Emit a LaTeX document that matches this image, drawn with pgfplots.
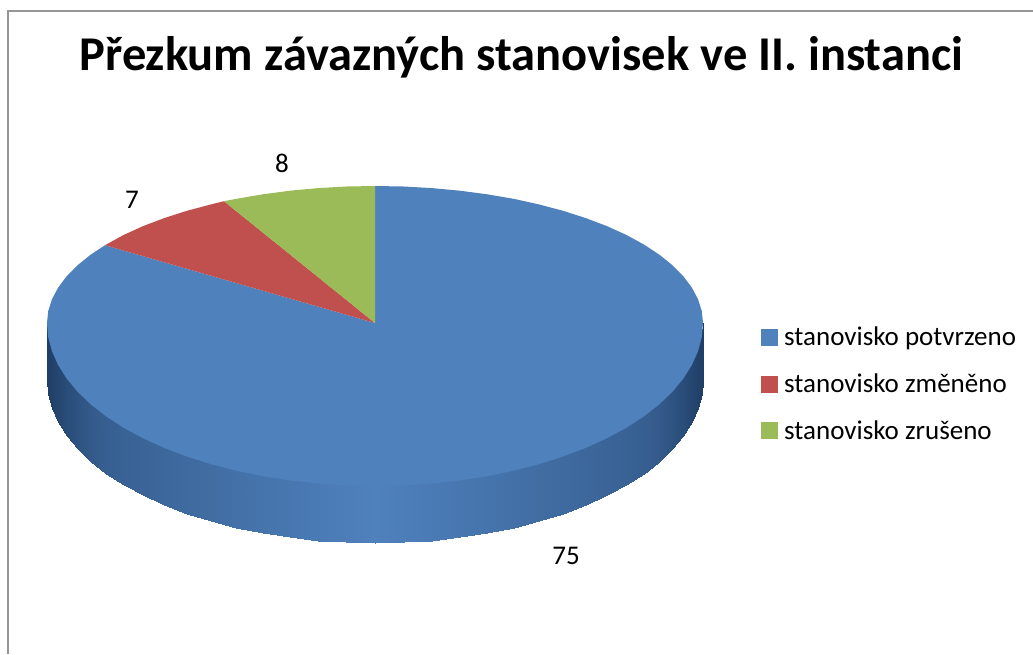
\documentclass[border=0pt]{standalone}
\usepackage{pgfplots}
\pgfplotsset{compat=1.18}
\usepackage{pgfplotstable}
\usepackage{fontspec}
\setmainfont{Carlito}
\definecolor{cblue}{HTML}{4F81BD}
\definecolor{cred}{HTML}{C0504D}
\definecolor{cgreen}{HTML}{9BBB59}
\definecolor{cframe}{HTML}{969696}
\begin{document}
\begin{tikzpicture}
\path[use as bounding box] (0,0) rectangle (1033pt,654pt);
\begin{axis}[
  scale only axis, width=1033pt, height=654pt,
  xmin=0, xmax=1033, ymin=0, ymax=654, y dir=reverse,
  hide axis, clip=false,
  colormap={wall}{rgb255(0)=(31,62,102); rgb255(1)=(79,129,189)},
  point meta min=0, point meta max=1,
]
\addplot[forget plot, cframe, line width=1.8pt] coordinates {(8,654) (8,11) (1033,11)};
% side wall
\addplot[forget plot, patch, patch type=rectangle, shader=interp, table/row sep=crcr, point meta=\thisrow{c},
 patch table={
0 1 38 37\\
1 2 39 38\\
2 3 40 39\\
3 4 41 40\\
4 5 42 41\\
5 6 43 42\\
6 7 44 43\\
7 8 45 44\\
8 9 46 45\\
9 10 47 46\\
10 11 48 47\\
11 12 49 48\\
12 13 50 49\\
13 14 51 50\\
14 15 52 51\\
15 16 53 52\\
16 17 54 53\\
17 18 55 54\\
18 19 56 55\\
19 20 57 56\\
20 21 58 57\\
21 22 59 58\\
22 23 60 59\\
23 24 61 60\\
24 25 62 61\\
25 26 63 62\\
26 27 64 63\\
27 28 65 64\\
28 29 66 65\\
29 30 67 66\\
30 31 68 67\\
31 32 69 68\\
32 33 70 69\\
33 34 71 70\\
34 35 72 71\\
35 36 73 72\\
}] table {
x y c\\
703 323 0\\
701.8 334.2 .02\\
698 348.3 .05\\
691.8 362.2 .12\\
683.2 375.7 .22\\
672.3 388.9 .32\\
659.1 401.5 .42\\
643.7 413.5 .49\\
626.3 424.8 .54\\
606.9 435.3 .58\\
585.8 444.9 .62\\
563.1 453.5 .66\\
539 461.2 .7\\
513.6 467.7 .75\\
487.2 473.2 .8\\
459.9 477.4 .85\\
432 480.5 .9\\
403.6 482.4 .95\\
375 483 1\\
346.4 482.4 .95\\
318 480.5 .9\\
290.1 477.4 .85\\
262.8 473.2 .8\\
236.4 467.7 .75\\
211 461.2 .7\\
186.9 453.5 .66\\
164.2 444.9 .62\\
143.1 435.3 .58\\
123.7 424.8 .54\\
106.3 413.5 .49\\
90.9 401.5 .42\\
77.7 388.9 .32\\
66.8 375.7 .22\\
58.2 362.2 .12\\
52 348.3 .05\\
48.2 334.2 .02\\
47 323 0\\
703 380 0\\
701.8 394.2 .02\\
698 408.3 .05\\
691.8 422.2 .12\\
683.2 435.7 .22\\
672.3 448.9 .32\\
659.1 461.5 .42\\
643.7 473.5 .49\\
626.3 484.8 .54\\
606.9 495.3 .58\\
585.8 504.9 .62\\
563.1 513.5 .66\\
539 521.2 .7\\
513.6 527.7 .75\\
487.2 533.2 .8\\
459.9 537.4 .85\\
432 540.5 .9\\
403.6 542.4 .95\\
375 543 1\\
346.4 542.4 .95\\
318 540.5 .9\\
290.1 537.4 .85\\
262.8 533.2 .8\\
236.4 527.7 .75\\
211 521.2 .7\\
186.9 513.5 .66\\
164.2 504.9 .62\\
143.1 495.3 .58\\
123.7 484.8 .54\\
106.3 473.5 .49\\
90.9 461.5 .42\\
77.7 448.9 .32\\
66.8 435.7 .22\\
58.2 422.2 .12\\
52 408.3 .05\\
48.2 394.2 .02\\
47 380 0\\
};
% top surface: stanovisko potvrzeno (75)
\addplot[fill=cblue, draw=none] coordinates {
(375,323) (375,186) (403.6,186.5) (432,188.1) (459.9,190.7) (487.2,194.3) (513.6,198.8)
(539,204.4) (563.1,210.8) (585.8,218.1) (606.9,226.1) (626.3,234.9) (643.7,244.4)
(659.1,254.5) (672.3,265.1) (683.2,276.1) (691.8,287.5) (698,299.2) (701.8,311.1) (703,323)
(701.8,337.2) (698,351.3) (691.8,365.2) (683.2,378.7) (672.3,391.9) (659.1,404.5)
(643.7,416.5) (626.3,427.8) (606.9,438.3) (585.8,447.9) (563.1,456.5) (539,464.2)
(513.6,470.7) (487.2,476.2) (459.9,480.4) (432,483.5) (403.6,485.4) (375,486)
(346.4,485.4) (318,483.5) (290.1,480.4) (262.8,476.2) (236.4,470.7) (211,464.2)
(186.9,456.5) (164.2,447.9) (143.1,438.3) (123.7,427.8) (106.3,416.5) (90.9,404.5)
(77.7,391.9) (66.8,378.7) (58.2,365.2) (52,351.3) (48.2,337.2) (47,323)
(48.2,311.1) (52,299.2) (58.2,287.5) (66.8,276.1) (77.7,265.1) (90.9,254.5) (105,245.2)
} --cycle;
% stanovisko změněno (7)
\addplot[fill=cred, draw=none] coordinates {
(375,323) (105,245.2) (123.7,234.9) (143.1,226.1) (164.2,218.1) (186.9,210.8) (211,204.4) (224,201.2)
} --cycle;
% stanovisko zrušeno (8)
\addplot[fill=cgreen, draw=none] coordinates {
(375,323) (224,201.2) (236.4,198.8) (262.8,194.3) (290.1,190.7) (318,188.1) (346.4,186.5) (375,186)
} --cycle;
% legend
\addplot[fill=cblue, draw=none] coordinates {(761,329) (778,329) (778,346) (761,346)} --cycle;
\addplot[fill=cred, draw=none] coordinates {(761,376) (778,376) (778,393) (761,393)} --cycle;
\addplot[fill=cgreen, draw=none] coordinates {(761,422) (778,422) (778,439) (761,439)} --cycle;
\node[font=\fontsize{27}{32}\selectfont, anchor=base west, inner sep=0pt] at (axis cs:784,345) {stanovisko potvrzeno};
\node[font=\fontsize{27}{32}\selectfont, anchor=base west, inner sep=0pt] at (axis cs:784,392) {stanovisko změněno};
\node[font=\fontsize{27}{32}\selectfont, anchor=base west, inner sep=0pt] at (axis cs:784,439) {stanovisko zrušeno};
\node[font=\fontsize{48.5}{56}\selectfont\bfseries, anchor=base, inner sep=0pt] at (axis cs:521.5,70) {Přezkum závazných stanovisek ve II. instanci};
\node[font=\fontsize{27}{32}\selectfont, inner sep=0pt] at (axis cs:282,163.5) {8};
\node[font=\fontsize{27}{32}\selectfont, inner sep=0pt] at (axis cs:132,200) {7};
\node[font=\fontsize{27}{32}\selectfont, inner sep=0pt] at (axis cs:566,556) {75};
\end{axis}
\end{tikzpicture}
\end{document}
